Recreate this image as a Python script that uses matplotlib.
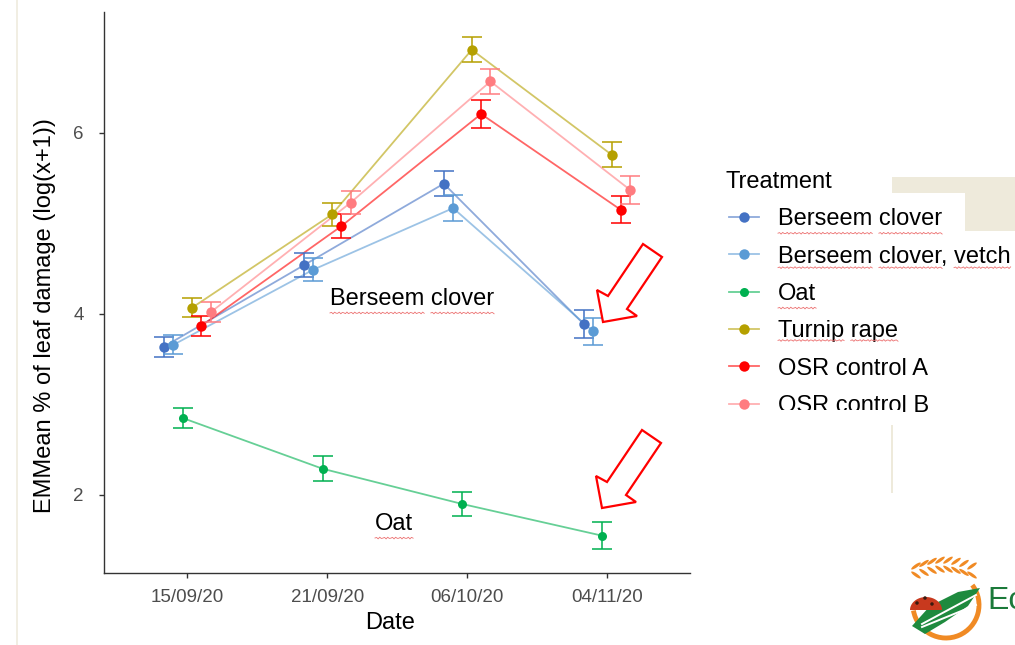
import numpy as np
import matplotlib
matplotlib.use("Agg")
import matplotlib.pyplot as plt
from matplotlib.lines import Line2D
from matplotlib.patches import Rectangle, Polygon, Arc, Ellipse

W, H = 1015, 645

dates = ["15/09/20", "21/09/20", "06/10/20", "04/11/20"]
treatments = ["Berseem clover", "Berseem clover, vetch", "Oat",
              "Turnip rape", "OSR control A", "OSR control B"]
colors = ["#4472C4", "#5B9BD5", "#00B050", "#B5A000", "#FF0000", "#FF7C80"]

# EMMeans (log(x+1)) and their SE
berseem = [3.64, 4.54, 5.44, 3.89]
berseem_se = [0.11, 0.13, 0.14, 0.15]
vetch = [3.66, 4.49, 5.17, 3.81]
vetch_se = [0.105, 0.13, 0.14, 0.15]
oat = [2.85, 2.29, 1.90, 1.55]
oat_se = [0.11, 0.14, 0.13, 0.15]
turnip = [4.07, 5.10, 6.92, 5.76]
turnip_se = [0.105, 0.13, 0.14, 0.14]
osr_a = [3.87, 4.97, 6.21, 5.15]
osr_a_se = [0.11, 0.13, 0.15, 0.15]
osr_b = [4.02, 5.23, 6.57, 5.37]
osr_b_se = [0.11, 0.13, 0.135, 0.15]

means = [berseem, vetch, oat, turnip, osr_a, osr_b]
errs = [berseem_se, vetch_se, oat_se, turnip_se, osr_a_se, osr_b_se]

plt.rcParams["font.family"] = ["Liberation Sans", "DejaVu Sans"]

TICK = "#4D4D4D"
AXIS = "#333333"
BEIGE = "#EEEADB"


def fx(x):
    return x / W


def fy(y):
    return 1 - y / H


def msize(name):
    return 6.5 if name == "Oat" else 7.5


fig = plt.figure(figsize=(W / 100, H / 100), dpi=100)
fig.patch.set_facecolor("white")

ax = fig.add_axes([fx(104), fy(573), (690 - 104) / W, (573 - 12) / H])
dodge = 0.0667
pos = np.arange(len(dates))
for i, (name, m, e, c) in enumerate(zip(treatments, means, errs, colors)):
    xs = pos + (i - 2.5) * dodge
    ax.plot(xs, m, color=c, alpha=0.6, lw=1.3, zorder=2)
    ax.errorbar(xs, m, yerr=e, fmt="none", ecolor=c, alpha=0.85,
                elinewidth=1.3, capsize=7, capthick=1.3, zorder=3)
    ax.plot(xs, m, "o", color=c, ms=msize(name), mec="none", zorder=4)

ax.set_xlim(-0.597, 3.594)
ax.set_ylim(1.138, 7.337)
ax.set_xticks(pos)
ax.set_xticklabels(dates)
ax.set_yticks([2, 4, 6])
for s in ["top", "right"]:
    ax.spines[s].set_visible(False)
for s in ["left", "bottom"]:
    ax.spines[s].set_color(AXIS)
    ax.spines[s].set_linewidth(1.0)
ax.tick_params(axis="both", length=3.6, width=1.0, color=AXIS,
               labelcolor=TICK, labelsize=13.5)
ax.tick_params(axis="y", pad=11)
ax.tick_params(axis="x", pad=8)

fig.text(fx(45), fy(316), "EMMean % of leaf damage (log(x+1))", rotation=90,
         ha="center", va="center", fontsize=17)
fig.text(fx(390), fy(623), "Date", ha="center", va="center", fontsize=17)

# slide annotations
t_bc = ax.text(1.019, 4.10, "Berseem clover", fontsize=17, va="baseline")
t_oat = ax.text(1.341, 1.613, "Oat", fontsize=17, va="baseline")

# background decorations of the slide
fig.add_artist(Rectangle((fx(16), 0), 2 / W, 1, transform=fig.transFigure,
                         color="#F1EEE3", lw=0, zorder=0))
fig.add_artist(Rectangle((fx(892), fy(193)), (W - 892) / W, 16 / H,
                         transform=fig.transFigure, color=BEIGE, lw=0, zorder=1))
fig.add_artist(Rectangle((fx(965), fy(231)), (W - 965) / W, 38 / H,
                         transform=fig.transFigure, color=BEIGE, lw=0, zorder=1))
fig.add_artist(Rectangle((fx(891), fy(493)), 2 / W, 69 / H,
                         transform=fig.transFigure, color=BEIGE, lw=0, zorder=1))

# legend, drawn by hand to match the slide spacing
fig.text(fx(726), fy(187.5), "Treatment", fontsize=17, va="baseline")
leg_texts = []
for i, (name, c) in enumerate(zip(treatments, colors)):
    yc = 216.7 + i * 37.4
    fig.add_artist(Line2D([fx(729), fx(759)], [fy(yc), fy(yc)], color=c,
                          alpha=0.6, lw=1.3, transform=fig.transFigure))
    fig.add_artist(Line2D([fx(744)], [fy(yc)], marker="o", color=c, mec="none",
                          ms=msize(name), transform=fig.transFigure))
    leg_texts.append(fig.text(fx(778), fy(yc + 8.5), name, fontsize=17,
                              va="baseline", zorder=5))
# last legend label is cut off on the slide
fig.add_artist(Rectangle((fx(770), fy(425)), 130 / W, 15 / H,
                         transform=fig.transFigure, color="white", lw=0,
                         zorder=20))

# red hollow arrows
arrow = np.array([[603, 322], [637, 316], [627, 309], [662, 257],
                  [643, 244], [608, 296], [597, 290]], dtype=float)
for dx, dy in [(0, 0), (-1, 186)]:
    pts = [(fx(x + dx), fy(y + dy)) for x, y in arrow]
    fig.add_artist(Polygon(pts, closed=True, fill=False, ec="#FF0000", lw=1.6,
                           transform=fig.transFigure, zorder=6))

# spell-check squiggles
fig.canvas.draw()
rend = fig.canvas.get_renderer()


def squiggle(t, words):
    bb = t.get_window_extent(rend)
    s = t.get_text()
    fp = t.get_fontproperties()
    ybase = bb.y0 + rend.get_text_width_height_descent(s, fp, ismath=False)[2]
    for w in words:
        i = s.index(w)
        x1 = bb.x0 + rend.get_text_width_height_descent(s[:i + len(w)], fp, ismath=False)[0]
        x0 = x1 - rend.get_text_width_height_descent(w, fp, ismath=False)[0]
        xs = np.linspace(x0, x1, max(int((x1 - x0) / 1.5), 2))
        ys = ybase - 3 + 0.9 * np.sin((xs - x0) / 4 * 2 * np.pi)
        fig.add_artist(Line2D(xs / W, ys / H, color="#EC7070", lw=0.6,
                              transform=fig.transFigure, zorder=7))


squiggle(t_bc, ["Berseem", "clover"])
squiggle(t_oat, ["Oat"])
squiggle(leg_texts[0], ["Berseem", "clover"])
squiggle(leg_texts[1], ["Berseem", "clover", "vetch"])
squiggle(leg_texts[2], ["Oat"])
squiggle(leg_texts[3], ["Turnip", "rape"])

# partial logo in the corner
ORANGE = "#F08A24"
GREEN = "#1E8A3E"
fig.add_artist(Arc((fx(946), fy(605)), 66 / W, 66 / H, theta1=195, theta2=50,
                   transform=fig.transFigure, color=ORANGE, lw=3.5, zorder=2))
for k in range(8):
    gx = 916 + k * 8
    gy = 566 - 6 * np.sin(k / 7 * np.pi)
    for off, ang in ((0, -40), (9, 40)):
        fig.add_artist(Ellipse((fx(gx), fy(gy + off)), 4 / W, 9 / H, angle=ang,
                               transform=fig.transFigure, color=ORANGE, lw=0,
                               zorder=2))
fig.add_artist(Polygon([(fx(912), fy(626)), (fx(930), fy(606)), (fx(958), fy(592)),
                        (fx(980), fy(588)), (fx(968), fy(606)), (fx(945), fy(622)),
                        (fx(925), fy(634))], closed=True,
                       transform=fig.transFigure, color=GREEN, lw=0, zorder=3))
for yo in (0, 10):
    fig.add_artist(Line2D([fx(922), fx(976)], [fy(624 + yo * 0.3), fy(595 + yo)],
                          color="white", lw=1.4, transform=fig.transFigure,
                          zorder=4))
# ladybug: half ellipse in pixel units
th = np.linspace(0, np.pi, 30)
bug = [(fx(926 + 16 * np.cos(t)), fy(610 - 13 * np.sin(t))) for t in th]
fig.add_artist(Polygon(bug, closed=True, transform=fig.transFigure,
                       color="#C8391E", lw=0, zorder=5))
for bx, by in [(917, 603), (925, 598), (932, 604)]:
    fig.add_artist(Ellipse((fx(bx), fy(by)), 3.5 / W, 3.5 / H,
                           transform=fig.transFigure, color="#3A1A10", lw=0,
                           zorder=6))
fig.text(fx(987), fy(609), "Ec", fontsize=23, color="#1B7A3A", va="baseline")

fig.savefig("out.png", dpi=100, facecolor="white")
